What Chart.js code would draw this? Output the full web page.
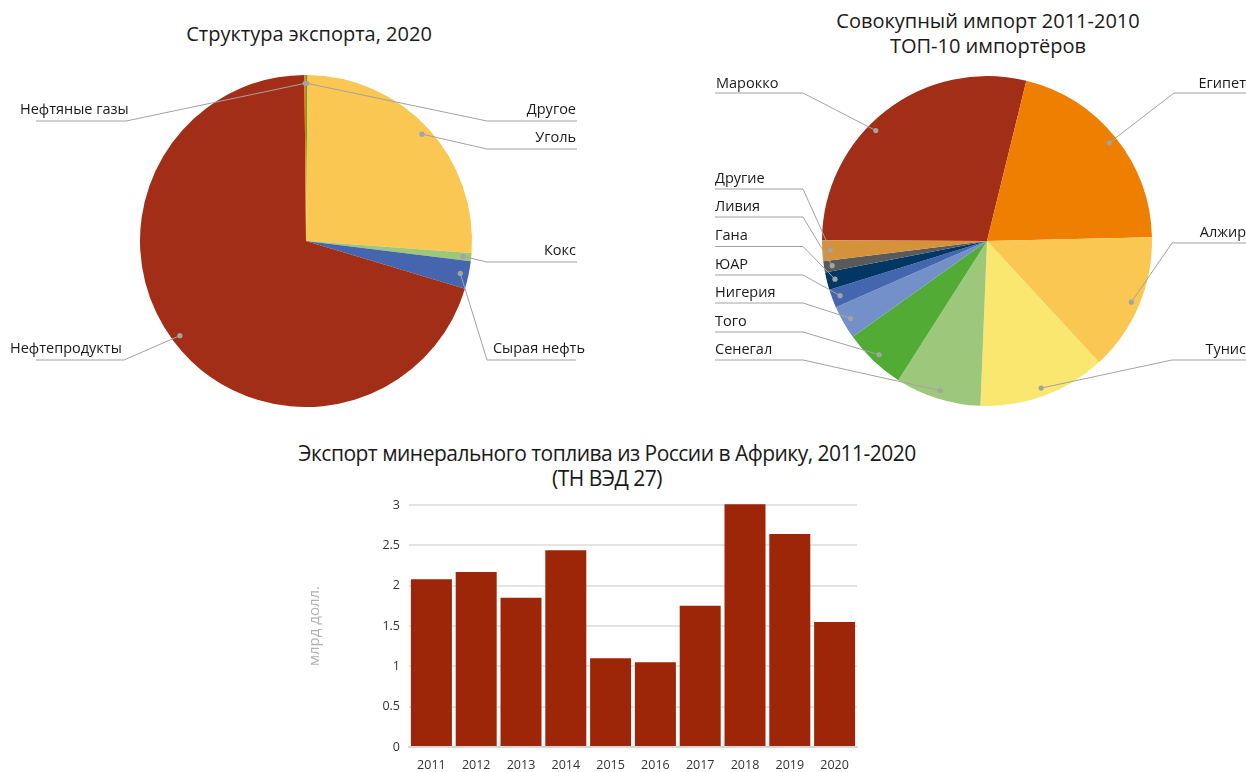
<!DOCTYPE html>
<html><head><meta charset="utf-8">
<script src="https://cdn.jsdelivr.net/npm/chart.js@4/dist/chart.umd.min.js"></script>
<style>
html,body{margin:0;padding:0;background:#fff;}
body{width:1246px;height:772px;overflow:hidden;position:relative;font-family:"Open Sans",sans-serif;}
canvas{position:absolute;}
.t{position:absolute;text-align:center;color:#1a1a1a;font-size:20px;line-height:25px;white-space:nowrap;}
.cond{font-size:21px;letter-spacing:-0.52px;}
</style></head><body>
<div class="t" style="left:9px;width:600px;top:21px;">Структура экспорта, 2020</div>
<div class="t" style="left:738px;width:500px;top:8px;">Совокупный импорт 2011-2010<br>ТОП-10 импортёров</div>
<div class="t cond" style="left:207px;width:800px;top:441px;">Экспорт минерального топлива из России в Африку, 2011-2020<br>(ТН ВЭД 27)</div>
<canvas id="p1" width="620" height="420" style="left:0;top:0;width:620px;height:420px;"></canvas>
<canvas id="p2" width="626" height="420" style="left:620px;top:0;width:626px;height:420px;"></canvas>
<canvas id="b1" width="580" height="347" style="left:290px;top:425px;width:580px;height:347px;"></canvas>
<script>
// ---- data ----
const exportCategories = ['Другое','Уголь','Кокс','Сырая нефть','Нефтепродукты','Нефтяные газы'];
const exportShares = [0.15, 26.0, 0.8, 2.7, 70.2, 0.15];
const exportColors = ['#4FA832','#F9C752','#9DC77A','#4566AE','#A22E18','#EF7F00'];

const importCountries = ['Марокко','Египет','Алжир','Тунис','Сенегал','Того','Нигерия','ЮАР','Гана','Ливия','Другие'];
const importShares = [28.75, 20.8, 13.5, 12.5, 8.4, 6.1, 3.3, 1.8, 1.7, 1.1, 2.05];
const importColors = ['#A22E18','#EF7F00','#F9C752','#F9E76F','#9DC77A','#52AB35','#7490C8','#4466AE','#003764','#5A5A5A','#D4923A'];

const years = ['2011','2012','2013','2014','2015','2016','2017','2018','2019','2020'];
const exportValues = [2.08, 2.17, 1.85, 2.44, 1.10, 1.05, 1.75, 3.01, 2.64, 1.55];
const yTickValues = [0, 0.5, 1, 1.5, 2, 2.5, 3];

// ---- label layout (canvas coords); af = fraction along the slice for the leader dot ----
const exportLabelLayout = [
  {side:'R', tx:576, ty:110, u1:487, u2:577, uy:121},
  {side:'R', tx:576, ty:138, u1:487, u2:577, uy:149},
  {side:'R', tx:576, ty:251, u1:487, u2:577, uy:262},
  {side:'R', tx:585, ty:349, u1:487, u2:576, uy:360},
  {side:'L', tx:10,  ty:349, u1:36,  u2:124, uy:360},
  {side:'L', tx:20,  ty:110, u1:36,  u2:126, uy:121}
];
const OFF = 620;
const importLabelLayout = [
  {side:'L', tx:716-OFF, ty:84,  u1:715-OFF, u2:803-OFF, uy:93, af:0.43},
  {side:'R', tx:1246-OFF, ty:84, u1:1174-OFF, u2:1246-OFF, uy:93},
  {side:'R', tx:1246-OFF, ty:233, u1:1172-OFF, u2:1246-OFF, uy:243},
  {side:'R', tx:1246-OFF, ty:350, u1:1172-OFF, u2:1246-OFF, uy:360},
  {side:'L', tx:715-OFF, ty:350, u1:715-OFF, u2:803-OFF, uy:360},
  {side:'L', tx:715-OFF, ty:322, u1:715-OFF, u2:803-OFF, uy:332},
  {side:'L', tx:715-OFF, ty:293, u1:715-OFF, u2:803-OFF, uy:303},
  {side:'L', tx:715-OFF, ty:265, u1:715-OFF, u2:803-OFF, uy:275},
  {side:'L', tx:715-OFF, ty:236, u1:715-OFF, u2:803-OFF, uy:246.5},
  {side:'L', tx:715-OFF, ty:207, u1:715-OFF, u2:803-OFF, uy:217},
  {side:'L', tx:715-OFF, ty:179, u1:715-OFF, u2:803-OFF, uy:189}
];

const leaderPlugin = {
  id: 'leaderLabels',
  afterDatasetsDraw(chart, args, opts) {
    const ctx = chart.ctx;
    const meta = chart.getDatasetMeta(0);
    const labels = chart.data.labels;
    ctx.save();
    opts.layout.forEach((L, i) => {
      const arc = meta.data[i];
      const p = arc.getProps(['x','y','startAngle','endAngle','outerRadius'], true);
      const f = L.af == null ? 0.5 : L.af;
      const mid = p.startAngle + (p.endAngle - p.startAngle) * f;
      const rr = p.outerRadius * 0.95;
      const dx = p.x + Math.cos(mid) * rr, dy = p.y + Math.sin(mid) * rr;
      const ix = L.side === 'L' ? L.u2 : L.u1;
      ctx.strokeStyle = '#a3a3a3';
      ctx.lineWidth = 1;
      ctx.beginPath();
      ctx.moveTo(L.u1, L.uy); ctx.lineTo(L.u2, L.uy);
      ctx.moveTo(ix, L.uy); ctx.lineTo(dx, dy);
      ctx.stroke();
      ctx.fillStyle = '#a3a3a3';
      ctx.beginPath(); ctx.arc(dx, dy, 2.6, 0, Math.PI*2); ctx.fill();
      ctx.fillStyle = '#1a1a1a';
      ctx.font = '14.5px "Open Sans", sans-serif';
      ctx.textBaseline = 'middle';
      ctx.textAlign = L.side === 'L' ? 'left' : 'right';
      ctx.fillText(labels[i], L.tx, L.ty);
    });
    ctx.restore();
  }
};

function pieCfg(labels, data, colors, layout, padding, rotation) {
  return {
    type: 'pie',
    data: { labels, datasets: [{ data, backgroundColor: colors, borderWidth: 0 }] },
    options: {
      responsive: false, animation: false, events: [], rotation,
      layout: { padding },
      plugins: { legend: {display:false}, tooltip: {enabled:false}, title:{display:false},
        leaderLabels: { layout } }
    },
    plugins: [leaderPlugin]
  };
}

new Chart(document.getElementById('p1'), pieCfg(exportCategories, exportShares, exportColors, exportLabelLayout,
  {left:140, right:148, top:75, bottom:13}, 0));
new Chart(document.getElementById('p2'), pieCfg(importCountries, importShares, importColors, importLabelLayout,
  {left:202, right:94, top:76, bottom:14}, 270.3));

new Chart(document.getElementById('b1'), {
  type: 'bar',
  data: { labels: years, datasets: [{ data: exportValues, backgroundColor: '#9D2608', borderWidth: 0,
    barPercentage: 0.915, categoryPercentage: 1.0, clip: false }] },
  options: {
    responsive: false, animation: false, events: [],
    layout: { padding: {left:16, right:13, top:80, bottom:0} },
    plugins: { legend: {display:false}, tooltip:{enabled:false} },
    scales: {
      x: {
        afterFit(scale) { scale.height = 25; },
        grid: { display:false, drawTicks:false },
        border: { display:true, color:'#d6d6d6', width:2 },
        ticks: { color:'#333', font:{family:'"Open Sans", sans-serif', size:12.5}, padding:11, maxRotation:0 }
      },
      y: {
        min: 0, max: 3,
        afterBuildTicks(scale) { scale.ticks = yTickValues.map(v => ({value:v})); },
        afterFit(scale) { scale.width = 103; },
        grid: { color:'#e4e4e4', lineWidth:2, drawTicks:false },
        border: { display:false },
        ticks: { color:'#333', font:{family:'"Open Sans", sans-serif', size:12.5}, padding:9,
          callback: v => String(v) },
        title: { display:true, text:'млрд долл.', color:'#b3b3b3', padding:0,
          font:{family:'"Open Sans", sans-serif', size:15} }
      }
    }
  }
});
</script>
</body></html>
